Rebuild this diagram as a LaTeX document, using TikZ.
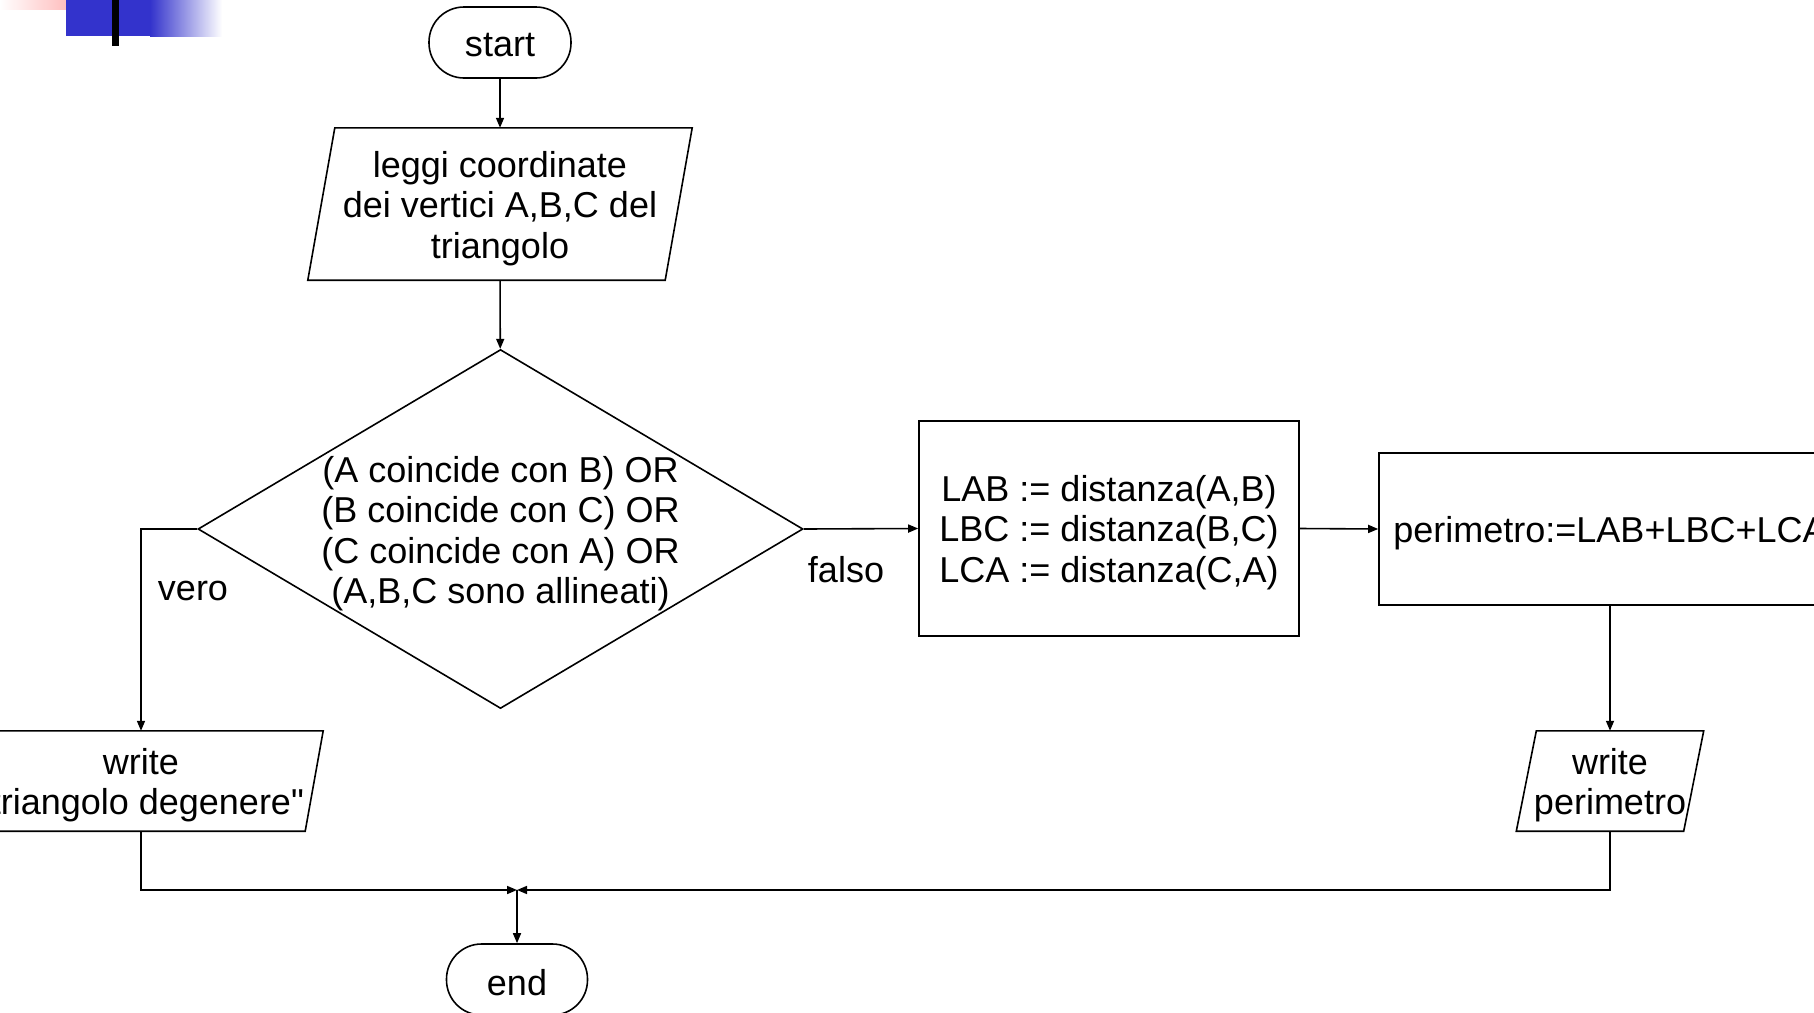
\documentclass[tikz,border=0pt]{standalone}
\usepackage{fontspec}
\setmainfont{Liberation Sans}[Ligatures=TeXOff]
\usetikzlibrary{shapes.geometric,arrows.meta}
\definecolor{decoblue}{RGB}{51,51,204}
\newcommand\drawparal[2]{\draw[line width=1.6pt] ([xshift=#2]#1.north west) -- ([xshift=#2]#1.north east) -- ([xshift=-#2]#1.south east) -- ([xshift=-#2]#1.south west) -- cycle;}
\begin{document}
\begin{tikzpicture}[x=1pt,y=-1pt,
  txt/.style={font=\fontsize{36}{40.5}\selectfont, align=center, inner sep=0pt},
  base/.style={draw, line width=1.6pt, inner sep=0pt},
  term/.style={base, minimum width=142pt, minimum height=71pt, rounded corners=35pt},
  proc/.style={base, rectangle},
  io/.style={rectangle, inner sep=0pt},
  cond/.style={base, diamond, minimum width=605pt, minimum height=359pt},
  conn/.style={line width=1.6pt, -{Triangle[length=10pt,width=8pt]}}
]
\useasboundingbox (0,0) rectangle (1814,1012);
% corner decoration
\shade[left color=white, right color=red!25] (0,0) rectangle (66,9);
\fill[decoblue] (66,0) rectangle (150,36);
\shade[left color=decoblue, right color=white] (150,0) rectangle (222,36);
\fill[black] (112,0) rectangle (119,46);

% shapes
\node[term] (start) at (500,42.5) {};
\node[io, minimum width=357pt, minimum height=152pt] (read) at (500,204) {};
\drawparal{read}{13.5pt}
\node[cond] (cond) at (500.5,529) {};
\node[proc, minimum width=380pt, minimum height=215pt] (dist) at (1109,528.5) {};
\node[proc, minimum width=462pt, minimum height=152pt] (perim) at (1610,529) {};
\node[io, minimum width=346pt, minimum height=100pt] (wdeg) at (141,781) {};
\drawparal{wdeg}{9pt}
\node[io, minimum width=167pt, minimum height=100pt] (wper) at (1610,781) {};
\drawparal{wper}{10pt}
\node[term, minimum width=141pt] (end) at (517,979.5) {};
\coordinate (join) at (517,890);

% texts
\node[txt] (starttxt) at ([yshift=-3pt]start.center) {start};
\node[txt] (readtxt) at ([yshift=-4.5pt]read.center) {leggi coordinate\\dei vertici A,B,C del\\triangolo};
\node[txt] (condtxt) at ([yshift=-4.5pt]cond.center) {(A coincide con B) OR\\(B coincide con C) OR\\(C coincide con A) OR\\(A,B,C sono allineati)};
\node[txt] (disttxt) at ([yshift=-4pt]dist.center) {LAB := distanza(A,B)\\LBC := distanza(B,C)\\LCA := distanza(C,A)};
\node[txt] (perimtxt) at ([yshift=-4pt]perim.center) {perimetro:=LAB+LBC+LCA};
\node[txt] (wdegtxt) at ([yshift=-4pt]wdeg.center) {write\\"triangolo degenere"};
\node[txt] (wpertxt) at ([yshift=-4pt]wper.center) {write\\perimetro};
\node[txt] (endtxt) at ([yshift=-3pt]end.center) {end};
\node[txt] (vero) at (193,590.5) {vero};
\node[txt] (falso) at (846,569.5) {falso};

% connectors
\draw[conn] (start) -- (read);
\draw[conn] (read) -- (cond);
\draw[conn] (cond.west) -| (wdeg.north);
\draw[conn] (cond.east) -- (dist.west);
\draw[conn] (dist.east) -- (perim.west);
\draw[conn] (perim.south) -- (wper.north);
\draw[conn] (wdeg.south) |- (join);
\draw[conn] (wper.south) |- (join);
\draw[conn] (join) -- (end.north);
\end{tikzpicture}
\end{document}
